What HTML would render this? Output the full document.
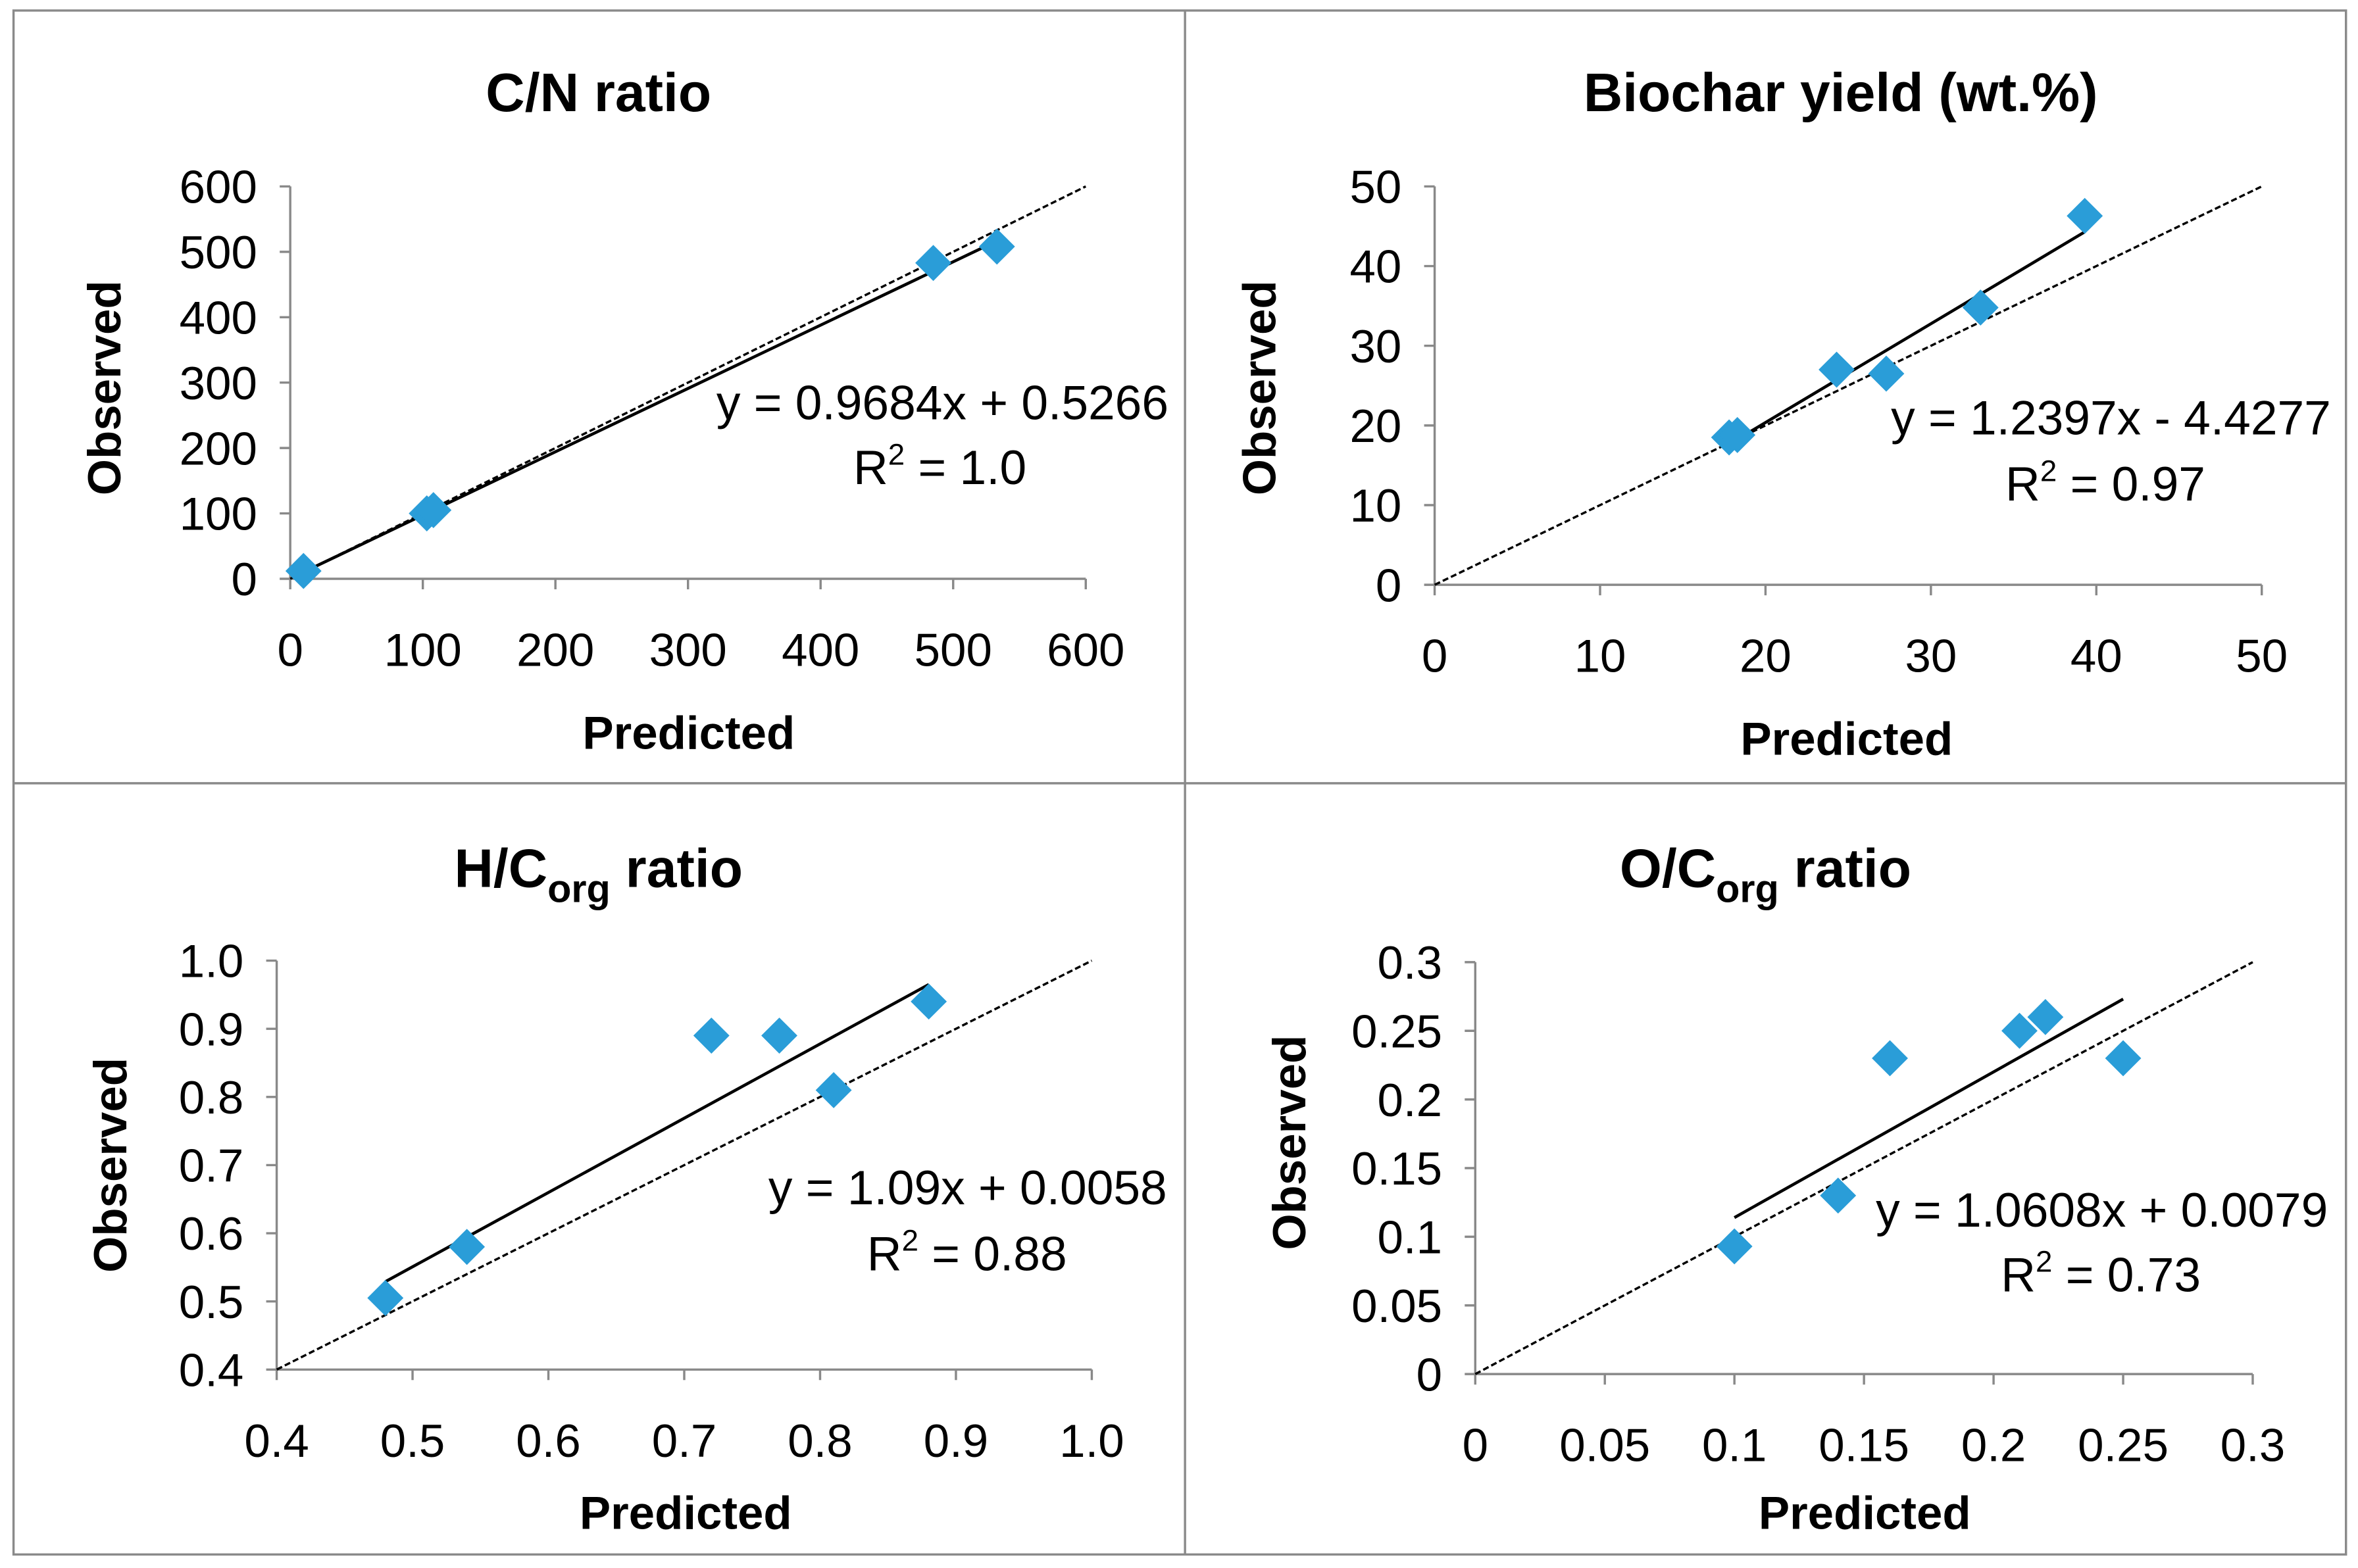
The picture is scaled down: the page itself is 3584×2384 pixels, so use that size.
<!DOCTYPE html>
<html><head><meta charset="utf-8"><style>
html,body{margin:0;padding:0;background:#fff}
svg{display:block}
text{font-family:"Liberation Sans",sans-serif}
</style></head><body>
<svg id="fig" width="3584" height="2384" viewBox="0 0 1568 1043" xmlns="http://www.w3.org/2000/svg">
<rect x="9" y="7" width="1551" height="1027" fill="#fff" stroke="#8a8a8a" stroke-width="1.5"/>
<line x1="788" y1="7" x2="788" y2="1034" stroke="#8a8a8a" stroke-width="1.5"/>
<line x1="9" y1="521" x2="1560" y2="521" stroke="#8a8a8a" stroke-width="1.5"/>
</svg>
<script>
// Chart 1: C/N ratio
const cnPredicted=[10,103,108,485,533];
const cnObserved=[12,100,105,483,508];
const cnTicks=[0,100,200,300,400,500,600];
const cnTickLabels=["0","100","200","300","400","500","600"];
const cnSlope=0.9684, cnIntercept=0.5266;
// Chart 2: Biochar yield
const byPredicted=[17.8,18.3,24.3,27.3,33,39.3];
const byObserved=[18.5,18.8,27,26.5,34.8,46.3];
const byTicks=[0,10,20,30,40,50];
const byTickLabels=["0","10","20","30","40","50"];
const bySlope=1.2397, byIntercept=-4.4277;
// Chart 3: H/Corg
const hcPredicted=[0.48,0.54,0.72,0.77,0.81,0.88];
const hcObserved=[0.505,0.58,0.89,0.89,0.81,0.94];
const hcTicks=[0.4,0.5,0.6,0.7,0.8,0.9,1.0];
const hcTickLabels=["0.4","0.5","0.6","0.7","0.8","0.9","1.0"];
const hcSlope=1.09, hcIntercept=0.0058;
// Chart 4: O/Corg
const ocPredicted=[0.1,0.14,0.16,0.21,0.22,0.25];
const ocObserved=[0.093,0.13,0.23,0.25,0.26,0.23];
const ocTicks=[0,0.05,0.1,0.15,0.2,0.25,0.3];
const ocTickLabels=["0","0.05","0.1","0.15","0.2","0.25","0.3"];
const ocSlope=1.0608, ocIntercept=0.0079;

const NS="http://www.w3.org/2000/svg";
const svg=document.getElementById('fig');
function mk(tag,attrs,parent,txt){const e=document.createElementNS(NS,tag);for(const k in attrs)e.setAttribute(k,attrs[k]);if(txt!==undefined)e.textContent=txt;(parent||svg).appendChild(e);return e;}

function chart(o){
  const g=mk('g',{});
  
  
  const min=o.ticks[0],max=o.ticks[o.ticks.length-1];
  const sx=v=>o.x0+(v-min)/(max-min)*(o.x1-o.x0);
  const sy=v=>o.y0-(v-min)/(max-min)*(o.y0-o.y1);
  const ax=mk('path',{d:`M${o.x0} ${o.y1}V${o.y0}H${o.x1}`,fill:'none',stroke:'#898989','stroke-width':1.5},g);
  
  
  o.ticks.forEach((t,i)=>{
    mk('line',{x1:o.x0-7,x2:o.x0,y1:sy(t),y2:sy(t),stroke:'#898989','stroke-width':1.5},g);
    mk('line',{x1:sx(t),x2:sx(t),y1:o.y0,y2:o.y0+7,stroke:'#898989','stroke-width':1.5},g);
    const yl=mk('text',{x:o.x0-22,y:sy(t)+11,'text-anchor':'end','font-size':31,fill:'#000'},g,o.labels[i]);
    
    
    const xl=mk('text',{x:sx(t),y:o.y0+58,'text-anchor':'middle','font-size':31,fill:'#000'},g,o.labels[i]);
    
    
  });
  const one=mk('line',{x1:sx(min),y1:sy(min),x2:sx(max),y2:sy(max),stroke:'#000','stroke-width':1.5,'stroke-dasharray':'4,2'},g);
  
  
  const xa=Math.min(...o.px),xb=Math.max(...o.px);
  const tl=mk('line',{x1:sx(xa),y1:sy(o.m*xa+o.b),x2:sx(xb),y2:sy(o.m*xb+o.b),stroke:'#000','stroke-width':2},g);
  
  
  o.px.forEach((p,i)=>{
    const cx=sx(p),cy=sy(o.py[i]),r=12;
    const d=mk('path',{d:`M${cx} ${cy-r}L${cx+r} ${cy}L${cx} ${cy+r}L${cx-r} ${cy}Z`,fill:'#2a9dd8'},g);
    
    
  });
  const t=mk('text',{x:o.tx,y:o.ty,'text-anchor':'middle','font-size':36,'font-weight':'bold'},g);
  
  
  if(o.sub){
    mk('tspan',{},t,o.title);
    mk('tspan',{'font-size':26,dy:10},t,'org');
    mk('tspan',{dy:-10},t,' ratio');
  } else t.textContent=o.title;
  const yt=mk('text',{x:0,y:0,transform:`translate(${o.ylx},${o.yly}) rotate(-90)`,'text-anchor':'middle','font-size':31,'font-weight':'bold'},g,'Observed');
  
  
  const xt=mk('text',{x:o.xlx,y:o.xly,'text-anchor':'middle','font-size':31,'font-weight':'bold'},g,'Predicted');
  
  
  const eq=mk('text',{x:o.ex,y:o.ey,'text-anchor':'end','font-size':32},g,o.eq);
  
  
  const r2=mk('text',{x:o.rx,y:o.ry,'text-anchor':'middle','font-size':32},g);
  
  
  mk('tspan',{},r2,'R');mk('tspan',{'font-size':20,dy:-13},r2,'2');mk('tspan',{dy:13},r2,' = '+o.r2);
}
chart({name:'cn-ratio-chart',ticks:cnTicks,labels:cnTickLabels,px:cnPredicted,py:cnObserved,m:cnSlope,b:cnIntercept,
  x0:193,x1:722,y0:385,y1:124,title:'C/N ratio',tx:398,ty:74,ylx:80,yly:258,xlx:458,xly:498,
  eq:'y = 0.9684x + 0.5266',ex:777,ey:279,r2:'1.0',rx:625,ry:322});
chart({name:'biochar-yield-chart',ticks:byTicks,labels:byTickLabels,px:byPredicted,py:byObserved,m:bySlope,b:byIntercept,
  x0:954,x1:1504,y0:389,y1:124,title:'Biochar yield (wt.%)',tx:1224,ty:74,ylx:848,yly:258,xlx:1228,xly:502,
  eq:'y = 1.2397x - 4.4277',ex:1550,ey:289,r2:'0.97',rx:1400,ry:333});
chart({name:'h-corg-chart',ticks:hcTicks,labels:hcTickLabels,px:hcPredicted,py:hcObserved,m:hcSlope,b:hcIntercept,
  x0:184,x1:726,y0:911,y1:639,title:'H/C',sub:true,tx:398,ty:590,ylx:84,yly:775,xlx:456,xly:1017,
  eq:'y = 1.09x + 0.0058',ex:776,ey:801,r2:'0.88',rx:643,ry:845});
chart({name:'o-corg-chart',ticks:ocTicks,labels:ocTickLabels,px:ocPredicted,py:ocObserved,m:ocSlope,b:ocIntercept,
  x0:981,x1:1498,y0:914,y1:640,title:'O/C',sub:true,tx:1174,ty:590,ylx:868,yly:760,xlx:1240,xly:1017,
  eq:'y = 1.0608x + 0.0079',ex:1548,ey:816,r2:'0.73',rx:1397,ry:859});
</script>
</body></html>
